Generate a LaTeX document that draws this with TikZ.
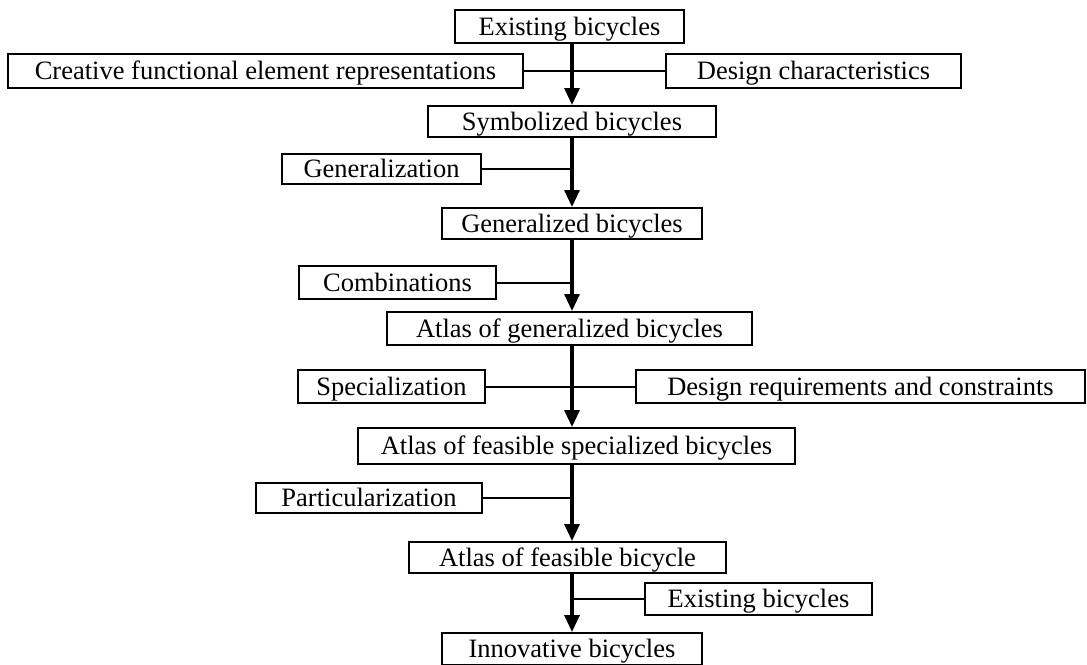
\documentclass[tikz,border=0pt]{standalone}
\usepackage{fontspec}
\setmainfont{Liberation Serif}
\usetikzlibrary{arrows.meta}

\begin{document}
\begin{tikzpicture}[x=1pt, y=-1pt, font=\fontsize{26.5}{30}\selectfont,
		box/.style={draw, line width=2pt, inner sep=0pt, text height=17pt, text depth=0pt},
		flow/.style={line width=3.2pt, -{Triangle[length=17pt,width=15pt]}},
		feed/.style={line width=2pt}]
		\useasboundingbox (0,0) rectangle (1087,664);
		\coordinate (spine) at (572,0);
		
		\node (exist)     [box, minimum width=229pt, minimum height=33pt] at (569.5,26.5) {Existing bicycles};
		\node (creat)     [box, minimum width=515pt, minimum height=34pt] at (265.5,71)   {Creative functional element representations};
		\node (design)    [box, minimum width=295pt, minimum height=34pt] at (813.5,71)   {Design characteristics};
		\node (symb)      [box, minimum width=288pt, minimum height=31pt] at (572,121.5)  {Symbolized bicycles};
		\node (gener)     [box, minimum width=199pt, minimum height=30pt] at (381.5,169)  {Generalization};
		\node (genbic)    [box, minimum width=260pt, minimum height=31pt] at (572,223.5)  {Generalized bicycles};
		\node (comb)      [box, minimum width=197pt, minimum height=33pt] at (397.5,282.5) {Combinations};
		\node (atlasgen)  [box, minimum width=365pt, minimum height=33pt] at (569.5,328.5) {Atlas of generalized bicycles};
		\node (spec)      [box, minimum width=187pt, minimum height=33pt] at (391.5,386.5) {Specialization};
		\node (req)       [box, minimum width=449pt, minimum height=33pt] at (860.5,386.5) {Design requirements and constraints};
		\node (atlasspec) [box, minimum width=437pt, minimum height=36pt] at (576.5,446)  {Atlas of feasible specialized bicycles};
		\node (part)      [box, minimum width=226pt, minimum height=30pt] at (369,498)    {Particularization};
		\node (atlasfeas) [box, minimum width=317pt, minimum height=31pt] at (567.5,557.5) {Atlas of feasible bicycle};
		\node (exist2)    [box, minimum width=227pt, minimum height=32pt] at (758.5,599)  {Existing bicycles};
		\node (innov)     [box, minimum width=260pt, minimum height=32pt] at (572,649)    {Innovative bicycles};
		
		\draw [feed] (creat.east) -- (design.west);
		\draw [feed] (gener.east) -- (gener.east -| spine);
		\draw [feed] (comb.east) -- (comb.east -| spine);
		\draw [feed] (spec.east) -- (req.west);
		\draw [feed] (part.east) -- (part.east -| spine);
		\draw [feed] (exist2.west) -- (exist2.west -| spine);
		
		\draw [flow] (exist.south -| spine) -- (symb.north -| spine);
		\draw [flow] (symb.south -| spine) -- (genbic.north -| spine);
		\draw [flow] (genbic.south -| spine) -- (atlasgen.north -| spine);
		\draw [flow] (atlasgen.south -| spine) -- (atlasspec.north -| spine);
		\draw [flow] (atlasspec.south -| spine) -- (atlasfeas.north -| spine);
		\draw [flow] (atlasfeas.south -| spine) -- (innov.north -| spine);
	\end{tikzpicture}
\end{document}
